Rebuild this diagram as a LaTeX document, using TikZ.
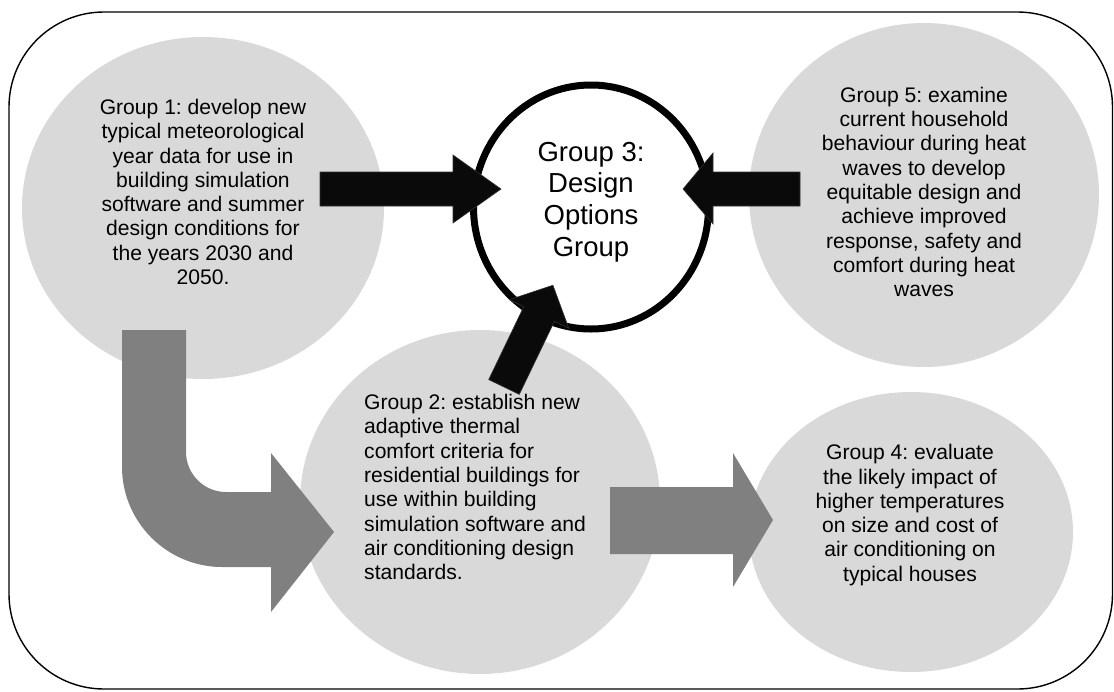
\documentclass[tikz,border=0pt]{standalone}
\usepackage{fontspec}
\setmainfont{Liberation Sans}
\usetikzlibrary{shapes.geometric}
\definecolor{blob}{HTML}{D9D9D9}
\definecolor{flow}{HTML}{808080}
\definecolor{ink}{HTML}{0A0A0A}
\frenchspacing

\begin{document}
\begin{tikzpicture}[x=1pt, y=-1pt,
    grp/.style={ellipse, fill=blob, inner sep=0pt},
    hub/.style={ellipse, draw=black, line width=7pt, fill=white, inner sep=0pt},
    txt/.style={font=\fontsize{21.1}{24.3}\selectfont, align=center, inner sep=0pt},
    push/.style={fill=ink, draw=black!80, line width=0.6pt},
    feed/.style={fill=flow}]

  \useasboundingbox (0,0) rectangle (1114,691);
  \draw[line width=1.4pt, rounded corners=95pt] (9,12) rectangle (1112.5,689);

  % the four working groups
  \node[grp, minimum width=362pt, minimum height=342pt] (g1) at (203,208) {};
  \node[grp, minimum width=360pt, minimum height=344pt] (g2) at (480,502) {};
  \node[grp, minimum width=324pt, minimum height=280pt] (g4) at (911,532) {};
  \node[grp, minimum width=350pt, minimum height=344pt] (g5) at (924,195) {};

  % grey flow: group 1 -> group 2 -> group 4
  \fill[feed] (122,330) -- (186,330) -- (186,452)
    .. controls (186,474) and (204,492) .. (226,492)
    -- (271,492) -- (271,453) -- (334,532) -- (271,612) -- (271,567) -- (222,567)
    .. controls (167,567) and (122,522) .. (122,467) -- cycle;
  \fill[feed] (610,487) -- (733,487) -- (733,453) -- (773,520)
    -- (733,587) -- (733,554) -- (610,554) -- cycle;

  % design options hub
  \node[hub, minimum width=235pt, minimum height=244pt] (g3) at (591,207) {};

  % inputs into the hub
  \filldraw[push] (320,172) -- (453,172) -- (453,155) -- (501,189)
    -- (453,223) -- (453,206) -- (320,206) -- cycle;
  \filldraw[push] (800,172) -- (713,172) -- (713,153) -- (683,189)
    -- (713,224) -- (713,206) -- (800,206) -- cycle;
  \filldraw[push] (488.7,379.6) -- (523.8,306.6) -- (509.4,299.7) -- (552.9,285.2)
    -- (568.8,328.3) -- (554.4,321.4) -- (519.3,394.4) -- cycle;

  % labels
  \node[txt] (t1) at (203,192) {Group 1: develop new\\typical meteorological\\year data for use in\\building simulation\\software and summer\\design conditions for\\the years 2030 and\\2050.};
  \node[txt, font=\fontsize{27.5}{31.7}\selectfont] (t3) at (591,202) {Group 3:\\Design\\Options\\Group};
  \node[txt] (t5) at (924,192) {Group 5: examine\\current household\\behaviour during heat\\waves to develop\\equitable design and\\achieve improved\\response, safety and\\comfort during heat\\waves};
  \node[txt, align=left, anchor=west] (t2) at (364,487) {Group 2: establish new\\adaptive thermal\\comfort criteria for\\residential buildings for\\use within building\\simulation software and\\air conditioning design\\standards.};
  \node[txt] (t4) at (910,515) {Group 4: evaluate\\the likely impact of\\higher temperatures\\on size and cost of\\air conditioning on\\typical houses};
\end{tikzpicture}
\end{document}
